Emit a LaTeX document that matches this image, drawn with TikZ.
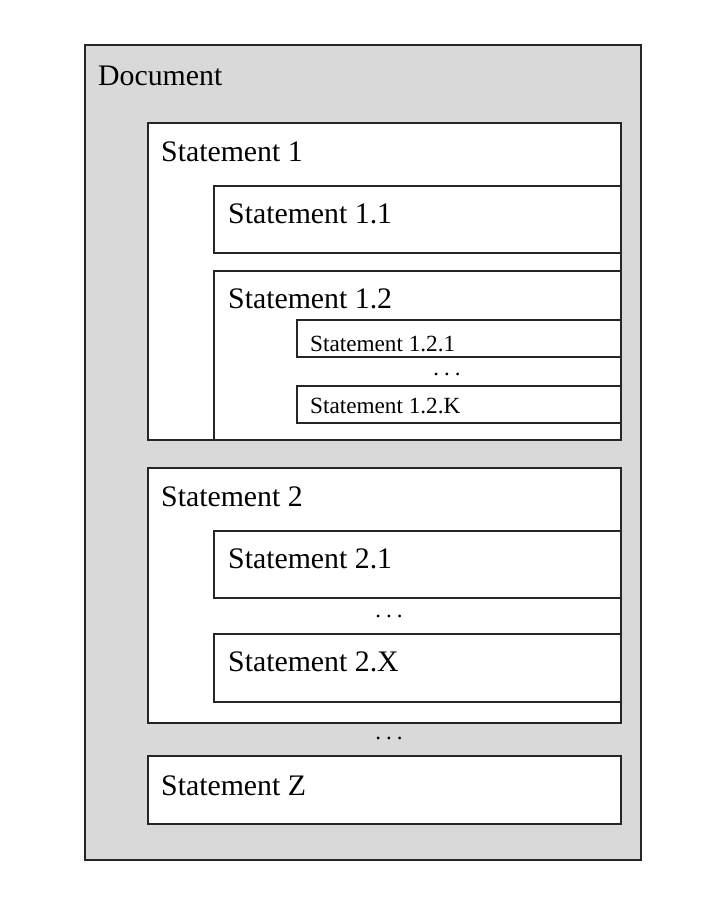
\documentclass[tikz,border=0pt]{standalone}
\usepackage{fontspec}
\setmainfont{Liberation Serif}
\begin{document}
\begin{tikzpicture}[x=1pt,y=-1pt,
  boxline/.style={draw=black!85, line width=1.1pt},
  bigtext/.style={anchor=base west, inner sep=0pt, font=\fontsize{29.8}{33}\selectfont},
  smalltext/.style={anchor=base west, inner sep=0pt, font=\fontsize{23.2}{26}\selectfont},
  dotstext/.style={anchor=base, inner sep=0pt, font=\fontsize{23}{26}\selectfont}]
\useasboundingbox (0,0) rectangle (720,913);
% Document
\draw[boxline, fill={rgb,255:red,217;green,217;blue,217}] (85,45) rectangle (641,860);
\node[bigtext] (doc) at (98,85) {Document};
% Statement 1
\draw[boxline, fill=white] (148,123) rectangle (621,440);
\node[bigtext] (s1) at (161,161) {Statement 1};
\draw[boxline] (214,186) rectangle (621,253);
\node[bigtext] (s11) at (228,223) {Statement 1.1};
\draw[boxline] (214,440) -- (214,271) -- (621,271);
\node[bigtext] (s12) at (228,308) {Statement 1.2};
\draw[boxline] (297,320) rectangle (621,357);
\node[smalltext] (s121) at (310,351) {Statement 1.2.1};
\node[dotstext] (d1) at (447,375) {.\hspace{5pt}.\hspace{5pt}.};
\draw[boxline] (297,386) rectangle (621,423);
\node[smalltext] (s12k) at (310,413) {Statement 1.2.K};
% Statement 2
\draw[boxline, fill=white] (148,468) rectangle (621,723);
\node[bigtext] (s2) at (161,506) {Statement 2};
\draw[boxline] (214,531) rectangle (621,598);
\node[bigtext] (s21) at (228,568) {Statement 2.1};
\node[dotstext] (d2) at (389,617) {.\hspace{5pt}.\hspace{5pt}.};
\draw[boxline] (214,634) rectangle (621,702);
\node[bigtext] (s2x) at (228,671) {Statement 2.X};
\node[dotstext] (d3) at (389,739) {.\hspace{5pt}.\hspace{5pt}.};
% Statement Z
\draw[boxline, fill=white] (148,756) rectangle (621,824);
\node[bigtext] (sz) at (161,795) {Statement Z};
\end{tikzpicture}
\end{document}
